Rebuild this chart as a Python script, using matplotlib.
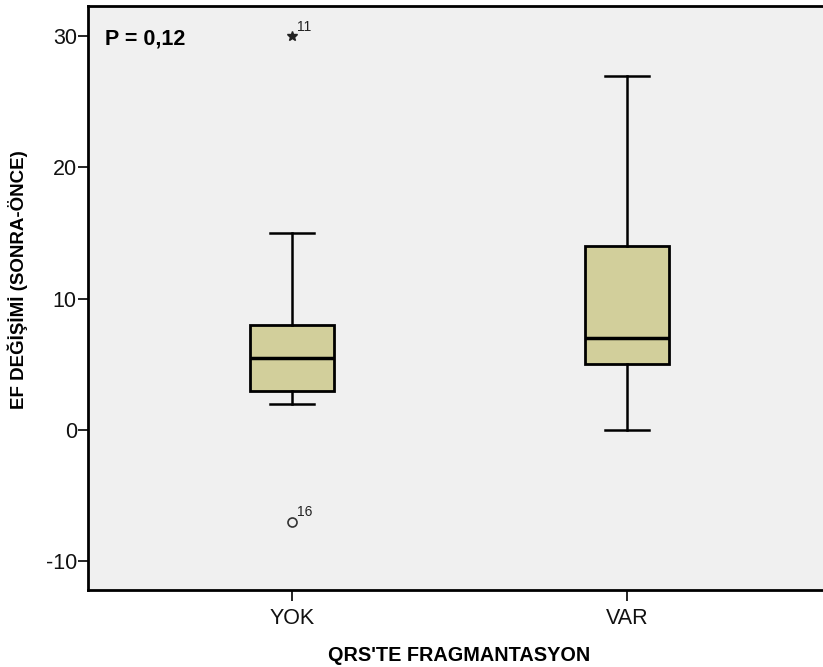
import matplotlib
matplotlib.use("Agg")
import matplotlib.pyplot as plt

plt.rcParams["font.family"] = ["Liberation Sans", "DejaVu Sans"]

# group labels and box statistics
groups = ["YOK", "VAR"]
whisker_low = [2, 0]
q1 = [3, 5]
median = [5.5, 7]
q3 = [8, 14]
whisker_high = [15, 27]

# outliers: (group index, value, case id, marker)
outlier_group = [0, 0]
outlier_value = [30, -7]
outlier_case = ["11", "16"]
outlier_marker = ["*", "o"]

p_text = "P = 0,12"
ylabel = "EF DEĞİŞİMİ (SONRA-ÖNCE)"
xlabel = "QRS'TE FRAGMANTASYON"
yticks = [-10, 0, 10, 20, 30]

box_color = "#D2CF9B"
bg_color = "#F0F0F0"

fig = plt.figure(figsize=(8.23, 6.67), dpi=100)
ax = fig.add_axes([0.1069, 0.1154, 0.9028, 0.8756])
ax.set_facecolor(bg_color)

stats = []
for i, g in enumerate(groups):
    stats.append({
        "label": g,
        "whislo": whisker_low[i],
        "q1": q1[i],
        "med": median[i],
        "q3": q3[i],
        "whishi": whisker_high[i],
        "fliers": [],
    })

positions = list(range(1, len(groups) + 1))
ax.bxp(
    stats,
    positions=positions,
    widths=0.25,
    patch_artist=True,
    showfliers=False,
    boxprops=dict(facecolor=box_color, edgecolor="black", linewidth=2),
    medianprops=dict(color="black", linewidth=2.5),
    whiskerprops=dict(color="black", linewidth=1.8),
    capprops=dict(color="black", linewidth=1.8),
    capwidths=0.13,
)

for gi, val, case, mk in zip(outlier_group, outlier_value, outlier_case, outlier_marker):
    x = positions[gi]
    if mk == "*":
        ax.plot(x, val, marker="*", color="#222222", markersize=7, linestyle="none")
    else:
        ax.plot(x, val, marker="o", markerfacecolor="none", markeredgecolor="#333333",
                markersize=6.5, markeredgewidth=1.2, linestyle="none")
    ax.annotate(case, (x, val), xytext=(3.5, 4), textcoords="offset points",
                fontsize=10, color="#222222")

ax.text(0.023, 0.943, p_text, transform=ax.transAxes, fontsize=15.5,
        fontweight="bold", ha="left", va="center")

ax.set_xlim(0.391, 2.609)
ax.set_ylim(-12.2, 32.3)
ax.set_yticks(yticks)
ax.set_yticklabels([str(t) for t in yticks])
ax.set_xticks(positions)
ax.set_xticklabels(groups)

for lbl in ax.get_xticklabels() + ax.get_yticklabels():
    lbl.set_fontsize(15.5)
    lbl.set_color("#111111")

ax.tick_params(axis="y", direction="out", length=7, width=1.2, pad=1)
ax.tick_params(axis="x", direction="out", length=8, width=1.2, pad=5)

for side in ["top", "left", "bottom"]:
    ax.spines[side].set_linewidth(2)
ax.spines["right"].set_visible(False)

ax.set_ylabel(ylabel, fontsize=13.5, fontweight="bold", va="center")
ax.yaxis.set_label_coords(-0.094, 0.531)
ax.set_xlabel(xlabel, fontsize=14.3, fontweight="bold", labelpad=12)

fig.savefig("out.png", dpi=100, facecolor="white")
